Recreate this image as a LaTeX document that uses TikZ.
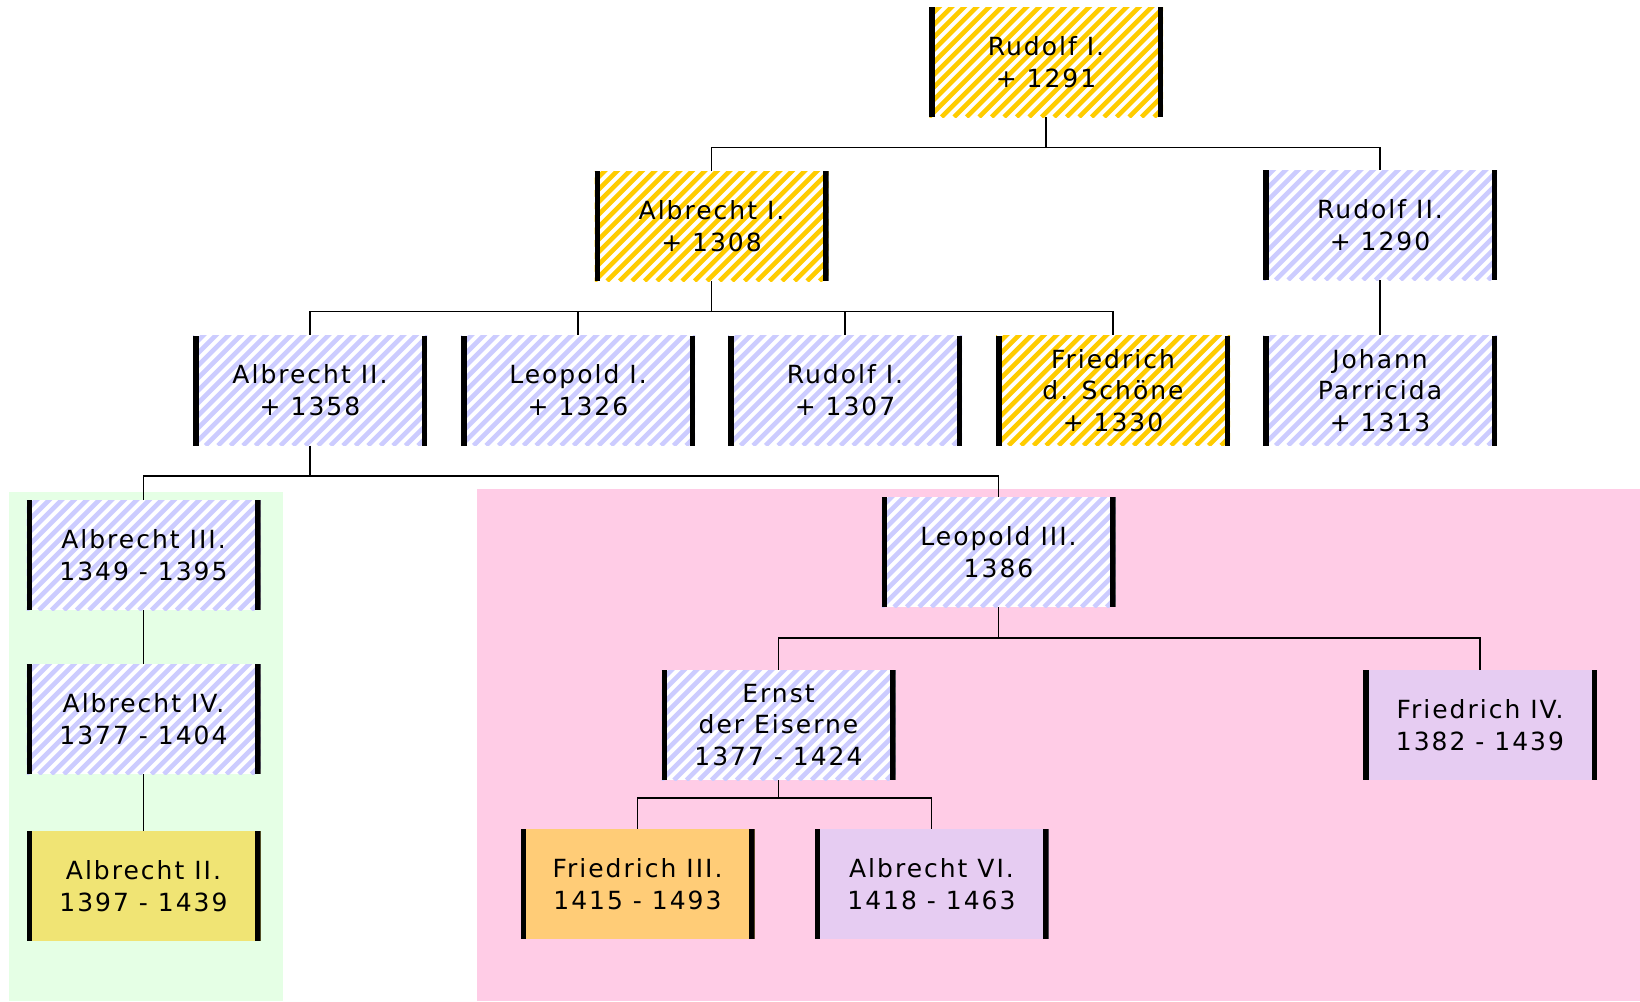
\documentclass[tikz,border=0pt]{standalone}
\usepackage{fontspec}
\newfontfamily\boxfont[LetterSpace=8]{DejaVu Sans}
\definecolor{stripeY}{HTML}{FFCC00}
\definecolor{stripeB}{HTML}{CCCCFF}
\definecolor{bgGreen}{HTML}{E5FFE5}
\definecolor{bgPink}{HTML}{FFCCE6}
\definecolor{fillKhaki}{HTML}{F0E474}
\definecolor{fillOrange}{HTML}{FFCC77}
\definecolor{fillLav}{HTML}{E6CCF2}
\tikzset{
  person/.style={minimum width=234pt, minimum height=110pt, inner sep=0pt,
    align=center, font=\boxfont\fontsize{25}{31.7}\selectfont, text=black},
  hatchbox/.style={person, fill=white,
    path picture={
      \foreach \i in {-125,-112.5,...,250}
        \draw[line width=4.6pt, #1] ([xshift=\i pt]path picture bounding box.south west) -- ++(125pt,125pt);
      \fill[black] (path picture bounding box.south west) rectangle ([xshift=5.5pt]path picture bounding box.north west);
      \fill[black] (path picture bounding box.south east) rectangle ([xshift=-5.5pt]path picture bounding box.north east);
    }},
  solidbox/.style={person, fill=#1,
    path picture={
      \fill[black] (path picture bounding box.south west) rectangle ([xshift=5.5pt]path picture bounding box.north west);
      \fill[black] (path picture bounding box.south east) rectangle ([xshift=-5.5pt]path picture bounding box.north east);
    }},
  conn/.style={draw=black, line width=1.8pt}
}
\begin{document}
\begin{tikzpicture}[x=1pt, y=-1pt]
\useasboundingbox (0,0) rectangle (1640,1001);
\fill[white] (0,0) rectangle (1640,1001);
% background regions
\fill[bgGreen] (9,492) rectangle (283,1001);
\fill[bgPink] (477,489) rectangle (1640,1001);

% nodes
\node[hatchbox=stripeY] (r1) at (1046,62) {Rudolf I.\\+ 1291};
\node[hatchbox=stripeY] (a1) at (711.5,226) {Albrecht I.\\+ 1308};
\node[hatchbox=stripeB] (r2) at (1380,225) {Rudolf II.\\+ 1290};

\node[hatchbox=stripeB] (a2) at (310,390.5) {Albrecht II.\\+ 1358};
\node[hatchbox=stripeB] (l1) at (578,390.5) {Leopold I.\\+ 1326};
\node[hatchbox=stripeB] (r1b) at (845,390.5) {Rudolf I.\\+ 1307};
\node[hatchbox=stripeY] (fs) at (1113,390.5) {Friedrich\\d. Schöne\\+ 1330};
\node[hatchbox=stripeB] (jp) at (1380,390.5) {Johann\\Parricida\\+ 1313};

\node[hatchbox=stripeB] (a3) at (143.5,555) {Albrecht III.\\1349 - 1395};
\node[hatchbox=stripeB] (a4) at (143.5,719) {Albrecht IV.\\1377 - 1404};
\node[solidbox=fillKhaki] (a2b) at (143.5,886) {Albrecht II.\\1397 - 1439};

\node[hatchbox=stripeB] (l3) at (998.5,552) {Leopold III.\\1386};
\node[hatchbox=stripeB] (er) at (778.5,725) {Ernst\\der Eiserne\\1377 - 1424};
\node[solidbox=fillLav] (f4) at (1480,725) {Friedrich IV.\\1382 - 1439};
\node[solidbox=fillOrange] (f3) at (637.5,884) {Friedrich III.\\1415 - 1493};
\node[solidbox=fillLav] (a6) at (931.5,884) {Albrecht VI.\\1418 - 1463};

% junctions
\coordinate (j1) at (1046,147.5);
\coordinate (j2) at (711.5,311.5);
\coordinate (j3) at (310,476);
\coordinate (j4) at (998.5,638);
\coordinate (j5) at (778.5,798);

% connectors
\draw[conn] (r1.south) -- (j1) -| (a1.north);
\draw[conn] (j1) -| (r2.north);
\draw[conn] (a1.south) -- (j2) -| (a2.north);
\draw[conn] (j2) -| (l1.north);
\draw[conn] (j2) -| (r1b.north);
\draw[conn] (j2) -| (fs.north);
\draw[conn] (r2.south) -- (jp.north);
\draw[conn] (a2.south) -- (j3) -| (a3.north);
\draw[conn] (j3) -| (l3.north);
\draw[conn] (a3.south) -- (a4.north);
\draw[conn] (a4.south) -- (a2b.north);
\draw[conn] (l3.south) -- (j4) -| (er.north);
\draw[conn] (j4) -| (f4.north);
\draw[conn] (er.south) -- (j5) -| (f3.north);
\draw[conn] (j5) -| (a6.north);
\end{tikzpicture}
\end{document}
